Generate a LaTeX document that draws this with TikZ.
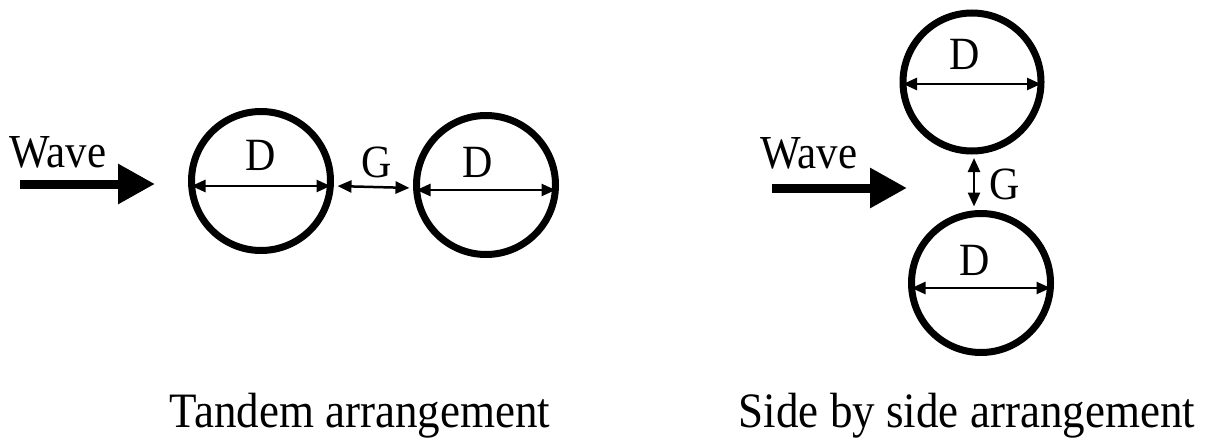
\documentclass[tikz,border=0pt]{standalone}
\usepackage{fontspec}
\setmainfont{Liberation Serif}
\usetikzlibrary{arrows.meta}
\newcommand{\tall}[1]{\scalebox{1}[1.1]{#1}}
\tikzset{
  cyl/.style={circle, draw, line width=7pt, minimum size=139pt, inner sep=0pt},
  dimarrow/.style={line width=2.5pt, {Triangle[length=14pt,width=12pt]}-{Triangle[length=14pt,width=12pt]}, shorten <=3.5pt, shorten >=3.5pt},
  wavearrow/.style={line width=9pt, -{Triangle[length=37pt,width=38pt]}},
  lbl/.style={anchor=base, inner sep=0pt, font=\fontsize{42}{42}\selectfont},
  wavelbl/.style={anchor=base, inner sep=0pt, font=\fontsize{43}{43}\selectfont},
  caption/.style={anchor=base, inner sep=0pt, font=\fontsize{45}{45}\selectfont}
}
\begin{document}
\begin{tikzpicture}[x=1pt,y=-1pt]
\useasboundingbox (0,0) rectangle (1209,441);
% Tandem arrangement
\node[cyl] (c1) at (261,181) {};
\node[cyl] (c2) at (486,185) {};
\coordinate (w1s) at (20,184);
\coordinate (w1e) at (155,184);
\draw[wavearrow] (w1s) -- (w1e);
\node[wavelbl] (wave1) at (58,167) {\tall{Wave}};
\draw[dimarrow] ([yshift=-5pt]c1.west) -- ([yshift=-5pt]c1.east);
\node[lbl] (d1) at (261,170) {\tall{D}};
\draw[dimarrow] ([yshift=-5pt]c2.west) -- ([yshift=-5pt]c2.east);
\node[lbl] (d2) at (478,177) {\tall{D}};
\draw[dimarrow] ([yshift=-5pt]c1.east) -- ([yshift=-3pt]c2.west);
\node[lbl] (g1) at (377,177) {\tall{G}};
\node[caption] (cap1) at (360,427) {\tall{Tandem arrangement}};
% Side by side arrangement
\node[cyl, minimum size=138pt] (c3) at (972,82) {};
\node[cyl] (c4) at (981,283) {};
\coordinate (w2s) at (772,188);
\coordinate (w2e) at (907,188);
\draw[wavearrow] (w2s) -- (w2e);
\node[wavelbl] (wave2) at (809,168) {\tall{Wave}};
\draw[dimarrow] ([yshift=-2pt]c3.west) -- ([yshift=-2pt]c3.east);
\node[lbl] (d3) at (965,70) {\tall{D}};
\draw[dimarrow] ([yshift=-5pt]c4.west) -- ([yshift=-5pt]c4.east);
\node[lbl] (d4) at (975,275) {\tall{D}};
\draw[dimarrow] ([xshift=2pt]c3.south) -- ([xshift=2pt]c3.south |- c4.north);
\node[lbl] (g2) at (1005,199) {\tall{G}};
\node[caption] (cap2) at (967,427) {\tall{Side by side arrangement}};
\end{tikzpicture}
\end{document}
